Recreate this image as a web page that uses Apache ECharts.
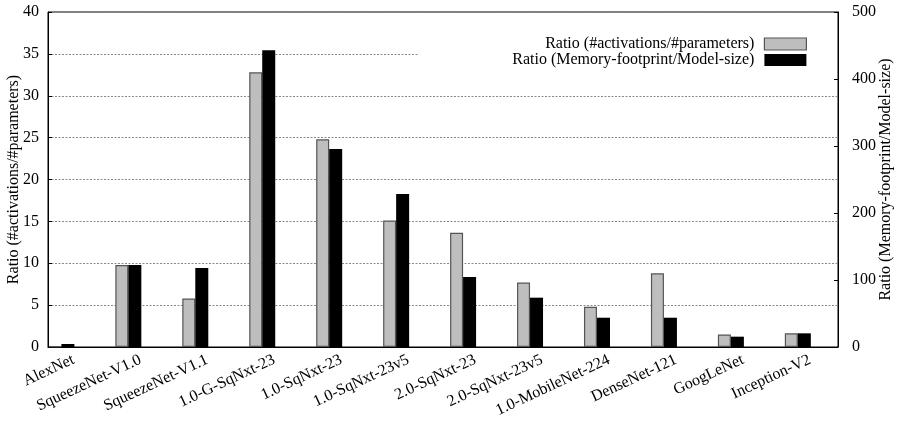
<!DOCTYPE html>
<html>
<head>
<meta charset="utf-8">
<script src="https://cdn.jsdelivr.net/npm/echarts@6/dist/echarts.min.js"></script>
<style>html,body{margin:0;padding:0;background:#fff}#c{width:897px;height:424px}</style>
</head>
<body>
<div id="c"></div>
<script>
const categories = ['AlexNet','SqueezeNet-V1.0','SqueezeNet-V1.1','1.0-G-SqNxt-23','1.0-SqNxt-23','1.0-SqNxt-23v5','2.0-SqNxt-23','2.0-SqNxt-23v5','1.0-MobileNet-224','DenseNet-121','GoogLeNet','Inception-V2'];
const activationRatio = [0.1, 9.8, 5.8, 32.8, 24.8, 15.1, 13.65, 7.7, 4.8, 8.8, 1.5, 1.65];
const memoryRatio = [4.5, 122.5, 118, 443, 295.5, 228.4, 104.5, 73.6, 43.7, 43.7, 15.4, 20.4];
const leftTicks = [0, 5, 10, 15, 20, 25, 30, 35, 40];
const rightTicks = [0, 100, 200, 300, 400, 500];
const seriesNames = ['Ratio (#activations/#parameters)', 'Ratio (Memory-footprint/Model-size)'];

const font = 'Liberation Serif';
const fs = 16;
const chart = echarts.init(document.getElementById('c'), null, {renderer: 'canvas'});
const labelPos = categories.map((c, i) => i + 0.18);

chart.setOption({
  animation: false,
  backgroundColor: '#fff',
  textStyle: {fontFamily: font, color: '#000'},
  grid: {left: 48, right: 59, top: 12, bottom: 77, show: true, borderColor: '#000', borderWidth: 1, outerBoundsMode: 'none', containLabel: false},
  legend: {
    orient: 'vertical', align: 'right', right: 60, top: 30,
    padding: [6, 30, 6, 93], backgroundColor: '#fff',
    itemWidth: 42, itemHeight: 12, itemGap: 0,
    textStyle: {fontFamily: font, fontSize: fs, color: '#000', padding: [0, 5, 0, 0]},
    data: [
      {name: seriesNames[0], icon: 'rect', itemStyle: {color: '#bebebe', borderColor: '#555', borderWidth: 1.2}},
      {name: seriesNames[1], icon: 'rect', itemStyle: {color: '#000', borderWidth: 0}}
    ]
  },
  xAxis: {
    type: 'value', min: -0.2, max: 11.6,
    axisLine: {show: true, onZero: false, lineStyle: {color: '#000', width: 1}},
    axisTick: {show: false},
    splitLine: {show: false},
    axisLabel: {
      customValues: labelPos, rotate: 25, margin: 12,
      fontFamily: font, fontSize: fs, color: '#000',
      formatter: v => categories[Math.round(v)]
    }
  },
  yAxis: [
    {
      type: 'value', min: leftTicks[0], max: leftTicks[leftTicks.length - 1], interval: 5,
      name: 'Ratio (#activations/#parameters)', nameLocation: 'middle', nameGap: 26, nameRotate: 90,
      nameMoveOverlap: false,
      nameTextStyle: {fontFamily: font, fontSize: fs, color: '#000'},
      axisLine: {show: true, onZero: false, lineStyle: {color: '#000'}},
      axisTick: {show: true, inside: true, length: 4, lineStyle: {color: '#000'}},
      axisLabel: {fontFamily: font, fontSize: fs, color: '#000', margin: 9},
      splitLine: {show: true, lineStyle: {color: '#888', type: [2, 1.5], width: 1}}
    },
    {
      type: 'value', min: rightTicks[0], max: rightTicks[rightTicks.length - 1], interval: 100, position: 'right',
      name: 'Ratio (Memory-footprint/Model-size)', nameLocation: 'middle', nameGap: 40, nameRotate: 90,
      nameMoveOverlap: false,
      nameTextStyle: {fontFamily: font, fontSize: fs, color: '#000'},
      axisLine: {show: true, onZero: false, lineStyle: {color: '#000'}},
      axisTick: {show: true, inside: true, length: 4, lineStyle: {color: '#000'}},
      axisLabel: {fontFamily: font, fontSize: fs, color: '#000', margin: 14},
      splitLine: {show: false}
    }
  ],
  series: [
    {
      name: seriesNames[0], type: 'bar', yAxisIndex: 0, barWidth: 13, barGap: '0%',
      itemStyle: {color: '#bebebe', borderColor: '#555', borderWidth: 1.2},
      data: activationRatio.map((v, i) => [i, v])
    },
    {
      name: seriesNames[1], type: 'bar', yAxisIndex: 1, barWidth: 13, barGap: '0%',
      itemStyle: {color: '#000'},
      data: memoryRatio.map((v, i) => [i, v])
    }
  ]
});
</script>
</body>
</html>
